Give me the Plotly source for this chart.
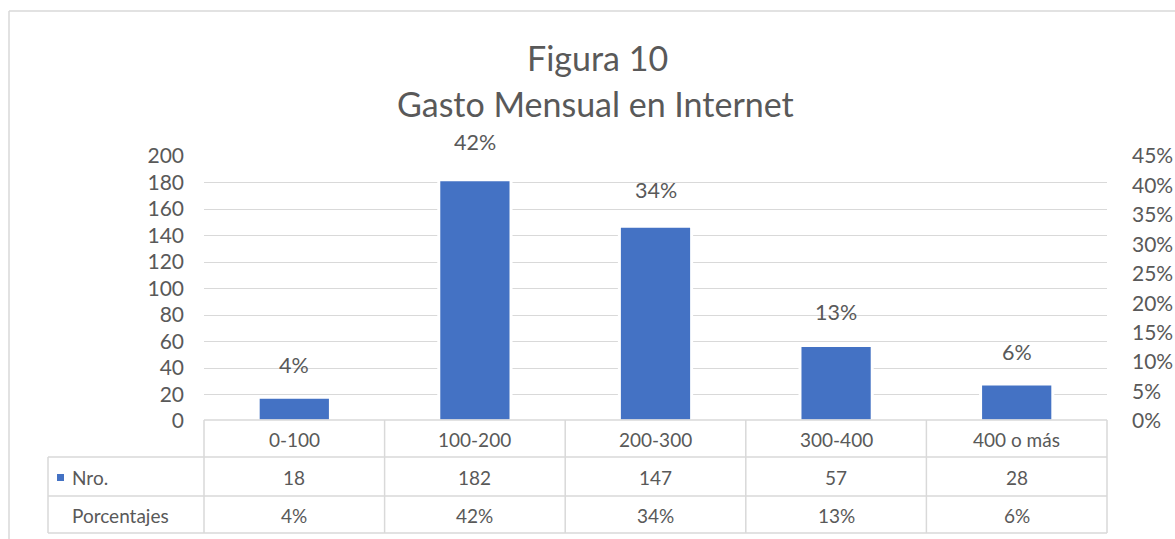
import plotly.graph_objects as go

# ---- data ----
categories = ["0-100", "100-200", "200-300", "300-400", "400 o más"]
nro = [18, 182, 147, 57, 28]
porcentajes = [0.0417, 0.4213, 0.3403, 0.1319, 0.0648]
pct_labels = ["4%", "42%", "34%", "13%", "6%"]
title_lines = ["Figura 10", "Gasto Mensual en Internet"]
series_names = ["Nro.", "Porcentajes"]

# ---- layout constants (pixels) ----
W, H = 1175, 539
ML, MR, MT, MB = 204, 68, 156, 118
PW = W - ML - MR
PH = H - MT - MB
FONT = "Lato"
TXT = "#595959"
GRID = "#d9d9d9"
BAR = "#4472C4"
TICK_SIZE = 21
LABEL_SIZE = 21.5
TABLE_SIZE = 19
TITLE_SIZE = 34


def px_x(x):
    return (x - ML) / PW


def px_y(y):
    return (H - MB - y) / PH


fig = go.Figure()
fig.add_trace(go.Bar(
    x=categories, y=nro, name=series_names[0],
    marker=dict(color=BAR, line=dict(color="white", width=3)),
    width=0.4, yaxis="y", showlegend=False, hoverinfo="skip",
))
fig.add_trace(go.Scatter(
    x=categories, y=porcentajes, name=series_names[1], mode="markers",
    marker=dict(opacity=0), yaxis="y2", showlegend=False, hoverinfo="skip",
))

annotations = []
# percentage labels above the (invisible) line points
for c, p, t in zip(categories, porcentajes, pct_labels):
    annotations.append(dict(x=c, y=p, xref="x", yref="y2", text=t, showarrow=False,
                            yshift=31, font=dict(family=FONT, size=LABEL_SIZE, color=TXT)))

# title
annotations.append(dict(x=px_x(597), xref="paper", y=px_y(57), yref="paper", text=title_lines[0],
                        showarrow=False, yanchor="middle",
                        font=dict(family=FONT, size=TITLE_SIZE, color=TXT)))
annotations.append(dict(x=px_x(595), xref="paper", y=px_y(103), yref="paper", text=title_lines[1],
                        showarrow=False, yanchor="middle",
                        font=dict(family=FONT, size=TITLE_SIZE, color=TXT)))

# data table
row_y = [px_y(439), px_y(477), px_y(515)]
for c, n, t in zip(categories, nro, pct_labels):
    annotations.append(dict(x=c, xref="x", y=row_y[0], yref="paper", text=c, showarrow=False,
                            yanchor="middle", font=dict(family=FONT, size=TABLE_SIZE, color=TXT)))
    annotations.append(dict(x=c, xref="x", y=row_y[1], yref="paper", text=str(n), showarrow=False,
                            yanchor="middle", font=dict(family=FONT, size=TABLE_SIZE, color=TXT)))
    annotations.append(dict(x=c, xref="x", y=row_y[2], yref="paper", text=t, showarrow=False,
                            yanchor="middle", font=dict(family=FONT, size=TABLE_SIZE, color=TXT)))
annotations.append(dict(x=px_x(70), xref="paper", y=row_y[1], yref="paper", text=series_names[0],
                        showarrow=False, xanchor="left", yanchor="middle",
                        font=dict(family=FONT, size=TABLE_SIZE, color=TXT)))
annotations.append(dict(x=px_x(70), xref="paper", y=row_y[2], yref="paper", text=series_names[1],
                        showarrow=False, xanchor="left", yanchor="middle",
                        font=dict(family=FONT, size=TABLE_SIZE, color=TXT)))

shapes = []
line = dict(color=GRID, width=1.5)
x_left = px_x(48)
ys = [px_y(420), px_y(457), px_y(496), px_y(533)]
# horizontal lines
shapes.append(dict(type="line", xref="paper", yref="paper", x0=0, x1=1, y0=ys[0], y1=ys[0], line=line))
for yy in ys[1:]:
    shapes.append(dict(type="line", xref="paper", yref="paper", x0=x_left, x1=1, y0=yy, y1=yy, line=line))
# vertical lines
n = len(categories)
for k in range(n + 1):
    shapes.append(dict(type="line", xref="paper", yref="paper", x0=k / n, x1=k / n,
                       y0=ys[0], y1=ys[3], line=line))
shapes.append(dict(type="line", xref="paper", yref="paper", x0=x_left, x1=x_left,
                   y0=ys[1], y1=ys[3], line=line))
# legend swatch
shapes.append(dict(type="rect", xref="paper", yref="paper", x0=px_x(57), x1=px_x(64),
                   y0=px_y(481), y1=px_y(474), fillcolor=BAR, line=dict(width=0)))
# outer chart border
shapes.append(dict(type="line", xref="paper", yref="paper", x0=px_x(9), x1=px_x(1180),
                   y0=px_y(11), y1=px_y(11), line=dict(color=GRID, width=1.5)))
shapes.append(dict(type="line", xref="paper", yref="paper", x0=px_x(9), x1=px_x(9),
                   y0=px_y(11), y1=px_y(545), line=dict(color=GRID, width=1.5)))

fig.update_layout(
    width=W, height=H,
    margin=dict(l=ML, r=MR, t=MT, b=MB, autoexpand=False),
    paper_bgcolor="white", plot_bgcolor="white",
    font=dict(family=FONT, size=TICK_SIZE, color=TXT),
    xaxis=dict(showticklabels=False, showgrid=False, zeroline=False, showline=False,
               automargin=False, range=[-0.5, len(categories) - 0.5]),
    yaxis=dict(range=[0, 200], dtick=20, showgrid=True, gridcolor=GRID, gridwidth=1.3,
               zeroline=False, showline=False, ticks="", ticklabelstandoff=19, automargin=False,
               tickfont=dict(family=FONT, size=TICK_SIZE, color=TXT)),
    yaxis2=dict(range=[0, 0.45], dtick=0.05, tickformat=".0%", overlaying="y", side="right",
                showgrid=False, zeroline=False, showline=False, ticks="", ticklabelstandoff=24,
                automargin=False,
                tickfont=dict(family=FONT, size=TICK_SIZE, color=TXT)),
    annotations=annotations,
    shapes=shapes,
    showlegend=False,
)

fig.write_html(
    "out.html",
    config={"displayModeBar": False},
    post_script="document.body.style.margin='0';document.body.style.overflow='hidden';",
)
